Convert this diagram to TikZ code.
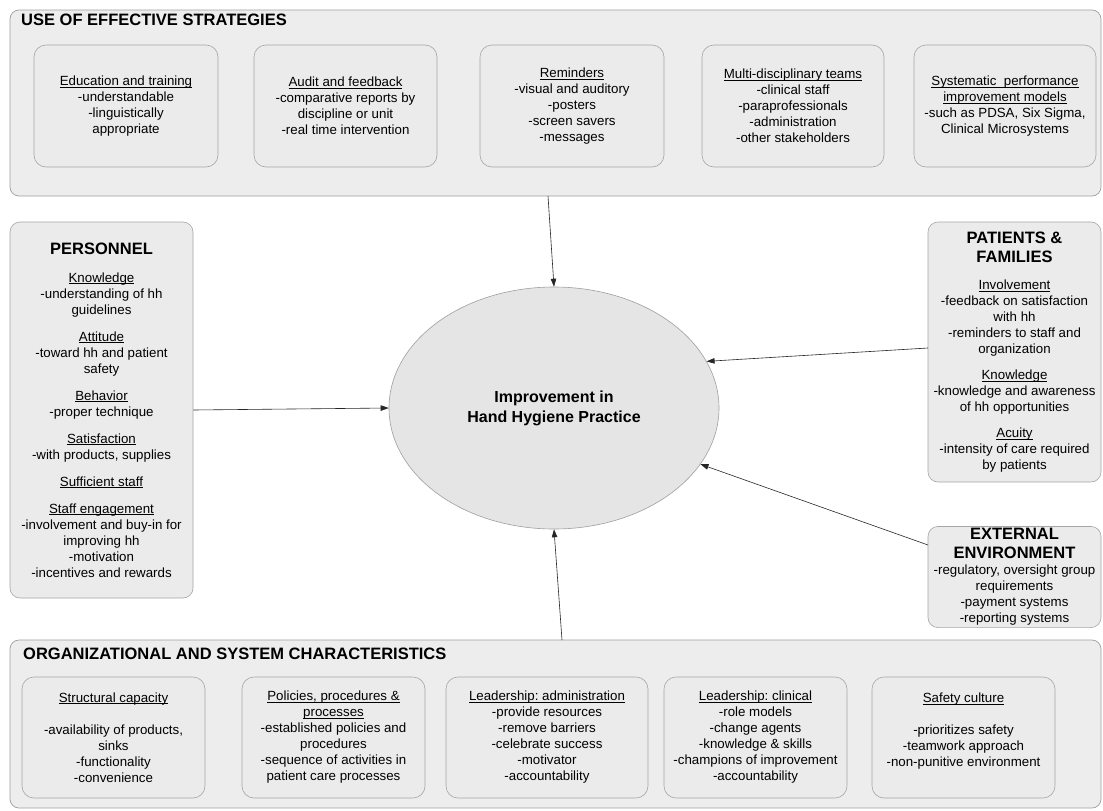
\documentclass[tikz,border=0pt]{standalone}
\usepackage{fontspec}
\setmainfont{Liberation Sans}
\usetikzlibrary{shapes.geometric, arrows.meta}
\frenchspacing

\newcommand{\headfont}{\bfseries\fontsize{16.5}{19}\selectfont}
\newcommand{\uln}[1]{\setbox0\hbox{#1}\rlap{\rule[-1.7pt]{\wd0}{0.5pt}}\box0}

\tikzset{
 panel/.style = {draw=gray!75, fill=gray!14, rounded corners=9pt, line width=0.7pt, inner sep=0pt},
 itembox/.style = {draw=gray!70, fill=gray!16, rounded corners=12pt, line width=0.6pt, align=center, inner sep=2pt,
   font=\fontsize{13.3}{16}\selectfont},
 sidebox/.style = {itembox, rounded corners=10pt},
 heading/.style = {font=\headfont, inner sep=0pt},
 goalnode/.style = {ellipse, draw=gray!75, fill=gray!20, line width=0.6pt, align=center,
   font=\bfseries\fontsize{16}{20}\selectfont},
 arr/.style = {draw=gray!30!black, line width=0.6pt, -{Triangle[length=8pt, width=5.5pt]}}
}

\begin{document}
\begin{tikzpicture}[x=1pt, y=-1pt]
 \useasboundingbox[fill=white] (0,0) rectangle (1103,811);

 % top panel: strategies
 \node[panel, minimum width=1091pt, minimum height=186pt] (strat) at (555.5,103) {};
 \node[heading, anchor=north west] (strattitle) at (21,14) {USE OF EFFECTIVE STRATEGIES};

 \node[itembox, minimum width=184pt, minimum height=122pt] (edu) at (126,106)
  {\uln{Education and training}\\-understandable\\-linguistically\\appropriate};
 \node[itembox, minimum width=183pt, minimum height=122pt] (audit) at (345.5,106)
  {\uln{Audit and feedback}\\-comparative reports by\\discipline or unit\\-real time intervention};
 \node[itembox, minimum width=184pt, minimum height=122pt] (remind) at (572,106)
  {\uln{Reminders}\\-visual and auditory\\-posters\\-screen savers\\-messages};
 \node[itembox, minimum width=182pt, minimum height=122pt] (teams) at (793,106)
  {\uln{Multi-disciplinary teams}\\-clinical staff\\-paraprofessionals\\-administration\\-other stakeholders};
 \node[itembox, minimum width=182pt, minimum height=122pt] (models) at (1005,106)
  {\uln{Systematic\ \ performance}\\\uln{improvement models}\\-such as PDSA, Six Sigma,\\Clinical Microsystems};

 % side boxes
 \node[sidebox, minimum width=183pt, minimum height=376pt] (staff) at (101.5,410)
  {{\headfont PERSONNEL}\\[12pt]
   \uln{Knowledge}\\-understanding of hh\\guidelines\\[11pt]
   \uln{Attitude}\\-toward hh and patient\\safety\\[11pt]
   \uln{Behavior}\\-proper technique\\[11pt]
   \uln{Satisfaction}\\-with products, supplies\\[11pt]
   \uln{Sufficient staff}\\[11pt]
   \uln{Staff engagement}\\-involvement and buy-in for\\improving hh\\-motivation\\-incentives and rewards};

 \node[sidebox, minimum width=173pt, minimum height=260pt] (family) at (1014.5,352)
  {{\headfont PATIENTS \&}\\[3pt]{\headfont FAMILIES}\\[11pt]
   \uln{Involvement}\\-feedback on satisfaction\\with hh\\-reminders to staff and\\organization\\[10pt]
   \uln{Knowledge}\\-knowledge and awareness\\of hh opportunities\\[10pt]
   \uln{Acuity}\\-intensity of care required\\by patients};

 \node[sidebox, minimum width=173pt, minimum height=98pt] (extern) at (1014.5,577)
  {{\headfont EXTERNAL}\\[3pt]{\headfont ENVIRONMENT}\\
   -regulatory, oversight group\\requirements\\-payment systems\\-reporting systems};

 % centre
 \node[goalnode, minimum width=330pt, minimum height=242pt] (goal) at (554,408)
  {Improvement in\\Hand Hygiene Practice};

 % bottom panel: organisation
 \node[panel, minimum width=1091pt, minimum height=168pt] (org) at (555.5,724) {};
 \node[heading, anchor=north west] (orgtitle) at (23,648) {ORGANIZATIONAL AND SYSTEM CHARACTERISTICS};

 \node[itembox, minimum width=183pt, minimum height=121pt] (struct) at (113.5,737.5)
  {\uln{Structural capacity}\\[16pt]-availability of products,\\sinks\\-functionality\\-convenience};
 \node[itembox, minimum width=183pt, minimum height=121pt] (policy) at (333.5,737.5)
  {\uln{Policies, procedures \&}\\\uln{processes}\\-established policies and\\procedures\\-sequence of activities in\\patient care processes};
 \node[itembox, minimum width=202pt, minimum height=121pt] (leadadm) at (547,737.5)
  {\uln{Leadership: administration}\\-provide resources\\-remove barriers\\-celebrate success\\-motivator\\-accountability};
 \node[itembox, minimum width=183pt, minimum height=121pt] (leadclin) at (755.5,737.5)
  {\uln{Leadership: clinical}\\-role models\\-change agents\\-knowledge \& skills\\-champions of improvement\\-accountability};
 \node[itembox, minimum width=183pt, minimum height=121pt] (culture) at (963.5,737.5)
  {\uln{Safety culture}\\[16pt]-prioritizes safety\\-teamwork approach\\-non-punitive environment\\\mbox{}};

 % arrows into the centre
 \coordinate (stratout) at (548,196);
 \coordinate (orgout) at (562,640);
 \coordinate (externout) at (928,545);
 \coordinate (familyout) at (928,348);

 \draw[arr] (stratout) -- (goal.north);
 \draw[arr] (staff.east) -- (goal.west);
 \draw[arr] (familyout) -- (goal.17);
 \draw[arr] (externout) -- (goal.-21);
 \draw[arr] (orgout) -- (goal.south);
\end{tikzpicture}
\end{document}
